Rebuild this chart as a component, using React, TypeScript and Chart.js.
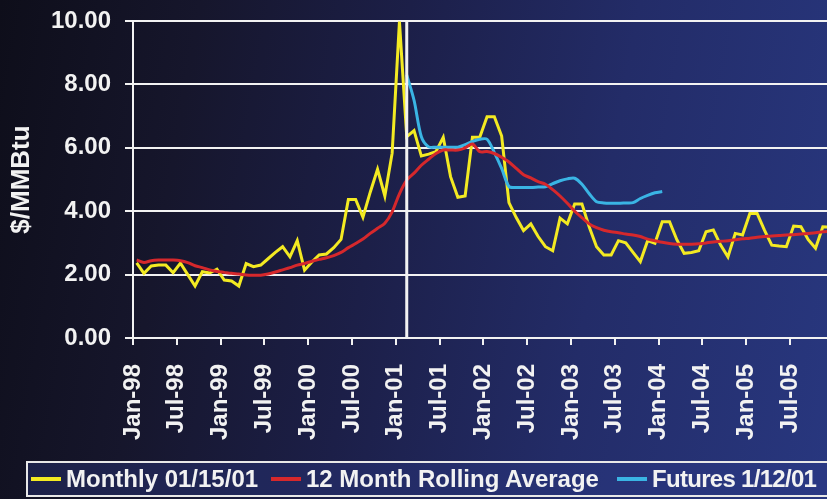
import React, { useEffect, useRef } from "react";
import { Chart, registerables } from "chart.js";

Chart.register(...registerables);

// ---- data ----
const tickLabels = [
  "Jan-98", "Jul-98", "Jan-99", "Jul-99", "Jan-00", "Jul-00", "Jan-01", "Jul-01",
  "Jan-02", "Jul-02", "Jan-03", "Jul-03", "Jan-04", "Jul-04", "Jan-05", "Jul-05",
];
const tickMonths = [0, 6, 12, 18, 24, 30, 36, 42, 48, 54, 60, 66, 72, 78, 84, 90];

// Monthly 01/15/01 (one value per month starting Jan-98)
const monthly = [
  2.37, 2.04, 2.27, 2.3, 2.3, 2.06, 2.36, 2.0, 1.64, 2.09, 2.05, 2.17,
  1.83, 1.8, 1.64, 2.35, 2.25, 2.3, 2.5, 2.7, 2.88, 2.56, 3.07, 2.14,
  2.4, 2.62, 2.65, 2.85, 3.11, 4.37, 4.37, 3.81, 4.6, 5.32, 4.48, 5.83,
  9.98, 6.35, 6.54, 5.74, 5.8, 5.88, 6.33, 5.09, 4.44, 4.48, 6.33, 6.33,
  6.98, 6.98, 6.37, 4.27, 3.8, 3.39, 3.6, 3.2, 2.88, 2.75, 3.78, 3.6,
  4.23, 4.23, 3.5, 2.88, 2.62, 2.62, 3.07, 3.0, 2.7, 2.41, 3.07, 2.99,
  3.67, 3.67, 3.1, 2.67, 2.7, 2.75, 3.35, 3.41, 2.93, 2.56, 3.3, 3.25,
  3.93, 3.93, 3.4, 2.93, 2.9, 2.88, 3.53, 3.51, 3.1, 2.83, 3.51, 3.5,
];

// 12 Month Rolling Average
const rollingAvg = [
  2.46, 2.38, 2.44, 2.46, 2.46, 2.46, 2.44, 2.38, 2.28, 2.22, 2.15, 2.1,
  2.07, 2.04, 2.02, 1.99, 1.98, 1.98, 2.02, 2.08, 2.15, 2.22, 2.3, 2.35,
  2.42, 2.48, 2.53, 2.6, 2.7, 2.85, 2.98, 3.12, 3.3, 3.46, 3.62, 3.98,
  4.55, 4.98, 5.2, 5.45, 5.64, 5.82, 5.93, 5.93, 5.93, 6.0, 6.12, 5.88,
  5.88, 5.82, 5.7, 5.55, 5.35, 5.15, 5.05, 4.93, 4.85, 4.68, 4.48, 4.25,
  4.0, 3.8, 3.6, 3.48, 3.4, 3.35, 3.32, 3.28, 3.25, 3.2, 3.12, 3.07,
  3.02, 2.98, 2.96, 2.96, 2.96, 2.97, 3.0, 3.03, 3.05, 3.07, 3.1, 3.13,
  3.15, 3.18, 3.2, 3.22, 3.23, 3.25, 3.26, 3.28, 3.3, 3.32, 3.35, 3.37,
];

// Futures 1/12/01, starting Feb-01 (month index 37)
const futuresStart = 37;
const futures = [
  8.3, 7.5, 6.35, 6.03, 6.02, 6.02, 6.02, 6.02, 6.1, 6.2, 6.27, 6.27,
  5.85, 5.35, 4.78, 4.75, 4.75, 4.75, 4.76, 4.77, 4.87, 4.96, 5.02, 5.04,
  4.85, 4.55, 4.3, 4.26, 4.25, 4.25, 4.26, 4.27, 4.4, 4.5, 4.58, 4.62,
];

// date of the vertical divider (in month units from Jan-98)
const dividerMonth = 37.5;
const axisMaxMonth = 95.07;

const legendItems = [
  { label: "Monthly 01/15/01", color: "#f3ea22" },
  { label: "12 Month Rolling Average", color: "#d6282c" },
  { label: "Futures 1/12/01", color: "#3ab4e4" },
];

const FONT = '"Liberation Sans", Arial, Helvetica, sans-serif';
const WHITE = "#f2f2f2";

export default function App() {
  const canvasRef = useRef<HTMLCanvasElement | null>(null);

  useEffect(() => {
    const canvas = canvasRef.current;
    if (!canvas) return;
    const toPts = (arr: number[], start: number) =>
      arr.map((v, i) => ({ x: start + i + 0.5, y: v }));

    const chart = new Chart(canvas, {
      type: "line",
      data: {
        datasets: [
          {
            label: "divider",
            data: [
              { x: dividerMonth, y: 0 },
              { x: dividerMonth, y: 10 },
            ],
            borderColor: WHITE,
            borderWidth: 3,
            pointRadius: 0,
          },
          {
            label: legendItems[1].label,
            data: toPts(rollingAvg, 0),
            borderColor: legendItems[1].color,
            borderWidth: 3,
            pointRadius: 0,
            tension: 0.3,
          },
          {
            label: legendItems[2].label,
            data: toPts(futures, futuresStart),
            borderColor: legendItems[2].color,
            borderWidth: 3,
            pointRadius: 0,
            tension: 0.3,
          },
          {
            label: legendItems[0].label,
            data: toPts(monthly, 0),
            borderColor: legendItems[0].color,
            borderWidth: 3,
            pointRadius: 0,
            tension: 0,
          },
        ],
      },
      options: {
        animation: false,
        responsive: false,
        devicePixelRatio: 1,
        layout: { padding: { top: 21, right: 0, bottom: 51, left: 0 } },
        plugins: { legend: { display: false }, tooltip: { enabled: false } },
        scales: {
          x: {
            type: "linear",
            min: 0,
            max: axisMaxMonth,
            afterBuildTicks: (s: any) => {
              s.ticks = tickMonths.map((v) => ({ value: v }));
            },
            afterFit: (s: any) => {
              s.height = 110;
              s.paddingLeft = 0;
              s.paddingRight = 0;
            },
            ticks: {
              autoSkip: false,
              minRotation: 90,
              maxRotation: 90,
              padding: 19,
              color: WHITE,
              font: { family: FONT, size: 24, weight: "bold" },
              callback: (_v: any, i: number) => tickLabels[i],
            },
            grid: {
              drawOnChartArea: false,
              drawTicks: true,
              tickLength: 7,
              color: WHITE,
              lineWidth: 2,
            },
            border: { color: WHITE, width: 2 },
          },
          y: {
            min: 0,
            max: 10,
            afterFit: (s: any) => {
              s.width = 133;
              s.paddingTop = 0;
              s.paddingBottom = 0;
            },
            ticks: {
              stepSize: 2,
              padding: 14,
              color: WHITE,
              font: { family: FONT, size: 24, weight: "bold" },
              callback: (v: any) => Number(v).toFixed(2),
            },
            grid: { color: WHITE, lineWidth: 2, tickLength: 8 },
            border: { color: WHITE, width: 2 },
            title: {
              display: true,
              text: "$/MMBtu",
              color: WHITE,
              font: { family: FONT, size: 26, weight: "bold" },
              padding: { top: 6, bottom: 0 },
            },
          },
        },
      } as any,
    });
    return () => chart.destroy();
  }, []);

  const barLefts = [31, 271, 617];

  return (
    <div
      style={{
        position: "fixed",
        left: 0,
        top: 0,
        width: 827,
        height: 499,
        overflow: "hidden",
        background:
          "linear-gradient(100deg, #0e0e1a 0%, #16162c 22%, #1c1f48 45%, #232c68 70%, #28377f 100%)",
      }}
    >
      <canvas ref={canvasRef} width={827} height={499} style={{ display: "block" }} />
      <div
        style={{
          position: "absolute",
          left: 26,
          top: 461,
          width: 815,
          height: 36,
          boxSizing: "border-box",
          border: "2px solid #e8e8e8",
          background: "rgba(45,60,140,0.35)",
          fontFamily: FONT,
          fontWeight: "bold",
          fontSize: 24,
          color: WHITE,
        }}
      >
        {legendItems.map((it, i) => (
          <div
            key={it.label}
            style={{
              position: "absolute",
              left: barLefts[i] - 28,
              top: 0,
              height: 32,
              display: "flex",
              alignItems: "center",
              whiteSpace: "nowrap",
              letterSpacing: i === 2 ? -0.7 : 0,
            }}
          >
            <span
              style={{
                display: "inline-block",
                width: 30,
                height: 4,
                background: it.color,
                marginRight: 5,
              }}
            />
            <span>{it.label}</span>
          </div>
        ))}
      </div>
    </div>
  );
}
